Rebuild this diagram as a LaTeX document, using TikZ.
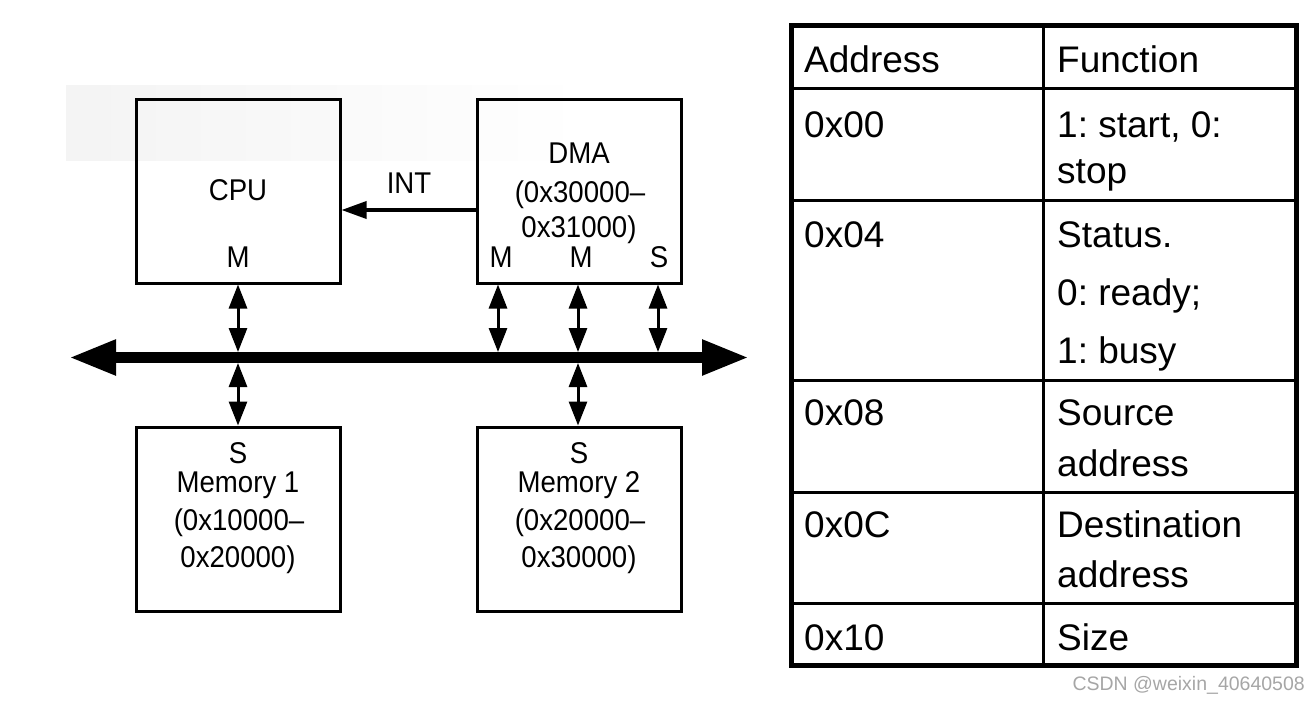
\documentclass[tikz,border=0pt]{standalone}
\usepackage{fontspec}
\setmainfont{Liberation Sans}
\newfontfamily\narrowfont[FakeStretch=0.92]{Liberation Sans}
\usetikzlibrary{arrows.meta, calc}
\frenchspacing

\begin{document}
\begin{tikzpicture}[x=1pt, y=-1pt,
            blk/.style={rectangle, draw, line width=3pt, minimum width=204pt, minimum height=184pt, inner sep=0pt},
            lbl/.style={font=\narrowfont\fontsize{30}{36}\selectfont, anchor=base, inner sep=0pt},
            cell/.style={font=\fontsize{37}{46}\selectfont, anchor=base west, inner sep=0pt},
            port/.style={{Triangle[length=24pt, width=18pt]}-{Triangle[length=24pt, width=18pt]}, line width=3pt},
            irq/.style={-{Triangle[length=25pt, width=17pt]}, line width=3.5pt},
            bus/.style={{Triangle[length=47pt, width=33pt]}-{Triangle[length=47pt, width=33pt]}, line width=11pt},
            rule/.style={line width=3pt}
        ]
            \useasboundingbox (0,0) rectangle (1316,701);

            % --- slide background ---
            \shade[left color=gray!9, middle color=gray!5, right color=white] (66,85) rectangle (585,160);

            % --- blocks ---
            \node[blk] (cpu) at (238,191) {};
            \node[blk] (dma) at (579,191) {};
            \node[blk] (mem1) at (238,519) {};
            \node[blk] (mem2) at (579,519) {};

            \node[lbl] (cpuname) at (238,200) {CPU};
            \node[lbl] (cpum) at (238,267) {M};
            \node[lbl] (dmaname) at (579,163) {DMA};
            \node[lbl] (dmalo) at (580,202) {(0x30000–};
            \node[lbl] (dmahi) at (579,237) {0x31000)};
            \node[lbl] (dmam1) at (501,267) {M};
            \node[lbl] (dmam2) at (581,267) {M};
            \node[lbl] (dmas) at (659,267) {S};

            \node[lbl] (mem1s) at (238,463) {S};
            \node[lbl] (mem1name) at (238,492) {Memory 1};
            \node[lbl] (mem1lo) at (239,530) {(0x10000–};
            \node[lbl] (mem1hi) at (238,567) {0x20000)};
            \node[lbl] (mem2s) at (579,463) {S};
            \node[lbl] (mem2name) at (579,492) {Memory 2};
            \node[lbl] (mem2lo) at (580,530) {(0x20000–};
            \node[lbl] (mem2hi) at (579,567) {0x30000)};

            % --- bus ---
            \coordinate (busL) at (69,357.5);
            \coordinate (busR) at (749,357.5);
            \draw[bus] (busL) -- (busR);

            \coordinate (tapcpu) at (238,352);
            \coordinate (tapd1) at (498,352);
            \coordinate (tapd2) at (578,352);
            \coordinate (tapd3) at (658,352);
            \coordinate (tapm1) at (238,363);
            \coordinate (tapm2) at (578,363);

            % --- links ---
            \draw[port] (cpu.south) -- (tapcpu);
            \draw[port] ($(dma.south)+(-81,0)$) -- (tapd1);
            \draw[port] ($(dma.south)+(-1,0)$) -- (tapd2);
            \draw[port] ($(dma.south)+(79,0)$) -- (tapd3);
            \draw[port] (tapm1) -- (mem1.north);
            \draw[port] (tapm2) -- ($(mem2.north)+(-1,0)$);

            \draw[irq] ($(dma.west)+(0,19)$) -- ($(cpu.east)+(0,19)$);
            \node[lbl] (intname) at (409,193) {INT};

            % --- register table ---
            \draw[line width=5pt] (791,25.5) rectangle (1296,665);
            \draw[rule] (1043,25.5) -- (1043,665);
            \foreach \y in {88,200,380,492,603}
                \draw[rule] (791,\y) -- (1296,\y);

            \foreach \y/\t [count=\i] in {73/Address, 137/0x00, 247/0x04, 425/0x08, 537/0x0C, 650/0x10}
                \node[cell] (adr\i) at (804,\y) {\t};
            \foreach \y/\t [count=\i] in {73/Function, 137/{1: start, 0:}, 183/stop, 247/Status., 305/{0: ready;}, 363/{1: busy}, 425/Source, 476/address, 537/Destination, 587/address, 650/Size}
                \node[cell] (fn\i) at (1057,\y) {\t};

            \node[font=\fontsize{19.5}{20}\selectfont, text=gray!70, anchor=base east, inner sep=0pt] (mark) at (1305,690) {CSDN @weixin\_40640508};
        \end{tikzpicture}
\end{document}
